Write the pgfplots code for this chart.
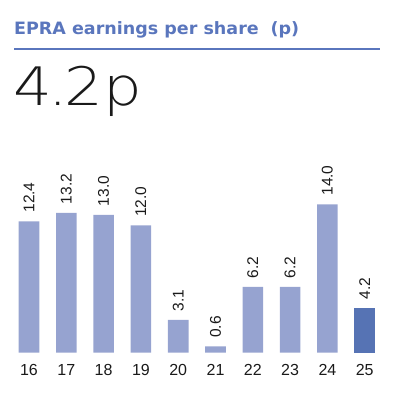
\documentclass[border=0pt]{standalone}
\usepackage{fontspec}
\setmainfont{Liberation Sans}
\newfontface\lightfont[FakeStretch=1.15]{DejaVu Sans ExtraLight}
\newfontface\titlefont[FakeStretch=1.03]{DejaVu Sans Bold}
\usepackage{pgfplots}
\usepackage{pgfplotstable}
\pgfplotsset{compat=1.18}
\definecolor{titleblue}{HTML}{5A76BD}
\definecolor{barlight}{HTML}{96A3D0}
\definecolor{bardark}{HTML}{5673B4}
\definecolor{txt}{HTML}{1A1A1A}
\pgfplotstableread{
x y lab
0 12.4 12.4
1 13.2 13.2
2 13.0 13.0
3 12.0 12.0
4 3.1 3.1
5 0.6 0.6
6 6.2 6.2
7 6.2 6.2
8 14.0 14.0
}\lightdata
\pgfplotstableread{
x y lab
9 4.2 4.2
}\darkdata
\begin{document}
\begin{tikzpicture}[x=1bp,y=1bp]
\path[use as bounding box] (0,0) rectangle (394,395);
\node[anchor=base west, inner sep=0pt, text=titleblue, font=\fontsize{17bp}{20bp}\selectfont\titlefont] at (14,360.7) {EPRA earnings per share\hspace{0.7em}(p)};
\draw[titleblue, line width=2bp] (14,346.3) -- (380,346.3);
\node[anchor=base west, inner sep=0pt, text=txt, font=\fontsize{53bp}{62bp}\selectfont\lightfont] at (13.5,290) {4\kern-3.5bp.\kern-3.5bp2p};
\begin{axis}[
  at={(10.35bp,42.3bp)}, anchor=south west,
  scale only axis, width=373bp, height=169.6bp,
  xmin=-0.5, xmax=9.5, ymin=0, ymax=16,
  axis line style={draw=none}, major tick length=0pt,
  ytick=\empty,
  xtick={0,1,2,3,4,5,6,7,8,9},
  xticklabels={16,17,18,19,20,21,22,23,24,25},
  xticklabel style={font=\fontsize{16bp}{19bp}\selectfont, text=txt, inner sep=0pt, yshift=-11.6bp, anchor=north},
  clip=false,
  ybar, bar width=20.6bp,
  nodes near coords,
  point meta=explicit symbolic,
  every node near coord/.append style={rotate=90, anchor=west, inner xsep=8.5bp, inner ysep=0pt, font=\fontsize{15.5bp}{18bp}\selectfont, text=txt},
]
\addplot[fill=barlight, draw=none, bar shift=0pt] table[x=x, y=y, meta=lab] {\lightdata};
\addplot[fill=bardark, draw=none, bar shift=0pt] table[x=x, y=y, meta=lab] {\darkdata};
\end{axis}
\end{tikzpicture}
\end{document}
